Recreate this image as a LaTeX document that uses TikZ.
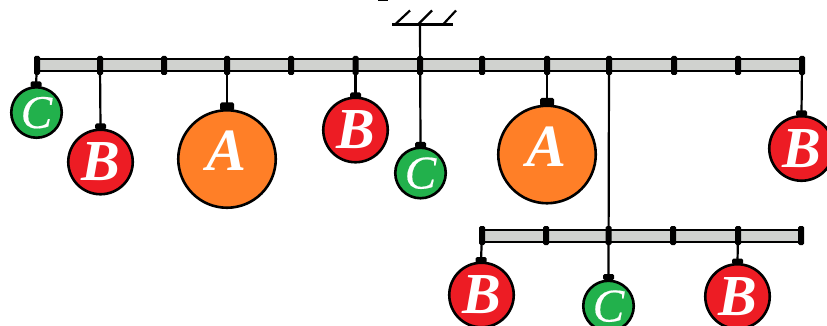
\documentclass[tikz,border=0pt]{standalone}
\usepackage{fontspec}
\setmainfont{Liberation Serif}
\newfontfamily\ballfont[FakeBold=0.4]{Liberation Serif}
\definecolor{ballred}{HTML}{ED1C24}
\definecolor{ballgreen}{HTML}{22B14C}
\definecolor{ballorange}{HTML}{FF7F27}
\definecolor{bargray}{HTML}{D0D2CF}
\tikzset{
  ballshape/.style={circle,draw=black,line width=2.6pt,inner sep=0pt,text=white},
  ballA/.style={ballshape,fill=ballorange,minimum size=97.5pt,text height=40pt,text depth=16pt,font=\bfseries\itshape\fontsize{60}{60}\selectfont},
  ballB/.style={ballshape,fill=ballred,minimum size=64.5pt,font=\bfseries\itshape\fontsize{58}{58}\selectfont},
  ballC/.style={ballshape,fill=ballgreen,minimum size=50.5pt,text height=31pt,text depth=0pt,font=\ballfont\itshape\fontsize{47}{47}\selectfont},
  tick/.style={rectangle,rounded corners=1.5pt,fill=black,minimum width=6pt,minimum height=19pt,inner sep=0pt},
  capS/.style={rectangle,rounded corners=1.5pt,fill=black,minimum width=11pt,minimum height=6pt,inner sep=0pt},
  capL/.style={rectangle,rounded corners=1.5pt,fill=black,minimum width=14pt,minimum height=8pt,inner sep=0pt},
  bar/.style={draw=black,line width=2pt,fill=bargray},
  wire/.style={draw=black,line width=2.2pt},
}
\begin{document}
\begin{tikzpicture}[x=1pt,y=-1pt]
\useasboundingbox (0,0) rectangle (827,326);
\clip (0,0) rectangle (827,326);
\fill[white] (0,0) rectangle (827,326);
% bars
\draw[bar] (37,59.5) rectangle (802,71.5);
\draw[bar] (482,229.5) rectangle (801,241.5);
% top ticks
\foreach \n/\px in {t1/37,t2/100,t3/164,t4/227,t5/291,t6/355.5,t7/420,t8/482,t9/547,t10/609,t11/674,t12/738,t13/802}
  \node[tick] (\n) at (\px,65.5) {};
% bottom ticks
\foreach \n/\px in {u1/482,u2/546,u3/608.5,u4/673,u5/738,u6/801}
  \node[tick] (\n) at (\px,235.5) {};
% ceiling
\coordinate (cl) at (392,24.5);
\coordinate (cr) at (453,24.5);
\coordinate (cm) at (420,24.5);
\draw[wire] (cl) -- (cr);
\draw[wire] (395,24.5) -- (410,10.5);
\draw[wire] (418,24.5) -- (432,10.5);
\draw[wire] (443,24.5) -- (456,10.5);
% fragment at the top edge
\fill[black] (378,0) rectangle (388,1.2);
% balls
\node[ballC] (c1) at (36.5,112.5) {C};
\node[ballB] (b1) at (100.5,162) {B};
\node[ballA] (a1) at (227,159) {A};
\node[ballB] (b2) at (355.5,130) {B};
\node[ballC] (c2) at (420.5,173) {C};
\node[ballA] (a2) at (547,154.5) {A};
\node[ballB] (b3) at (801.5,148.5) {B};
\node[ballB] (b4) at (481.5,295) {B};
\node[ballC] (c3) at (608.5,306) {C};
\node[ballB] (b5) at (737.5,296.5) {B};
% caps
\node[capS] (k1) at (36,84.5) {};
\node[capS] (k2) at (100.5,126.5) {};
\node[capL] (k3) at (227,106.5) {};
\node[capS] (k4) at (355.5,95.5) {};
\node[capS] (k5) at (420.5,145) {};
\node[capL] (k6) at (547,102) {};
\node[capS] (k7) at (801.5,113.5) {};
\node[capS] (k8) at (481,260) {};
\node[capS] (k9) at (608.5,277) {};
\node[capS] (k10) at (737.5,261.5) {};
% wires
\draw[wire] (t1.center) -- (k1.center);
\draw[wire] (t2.center) -- (k2.center);
\draw[wire] (t4.center) -- (k3.center);
\draw[wire] (t6.center) -- (k4.center);
\draw[wire] (cm) -- (k5.center);
\draw[wire] (t9.center) -- (k6.center);
\draw[wire] (t13.center) -- (k7.center);
\draw[wire] (t10.center) -- (k9.center);
\draw[wire] (u1.center) -- (k8.center);
\draw[wire] (u5.center) -- (k10.center);
\end{tikzpicture}
\end{document}
